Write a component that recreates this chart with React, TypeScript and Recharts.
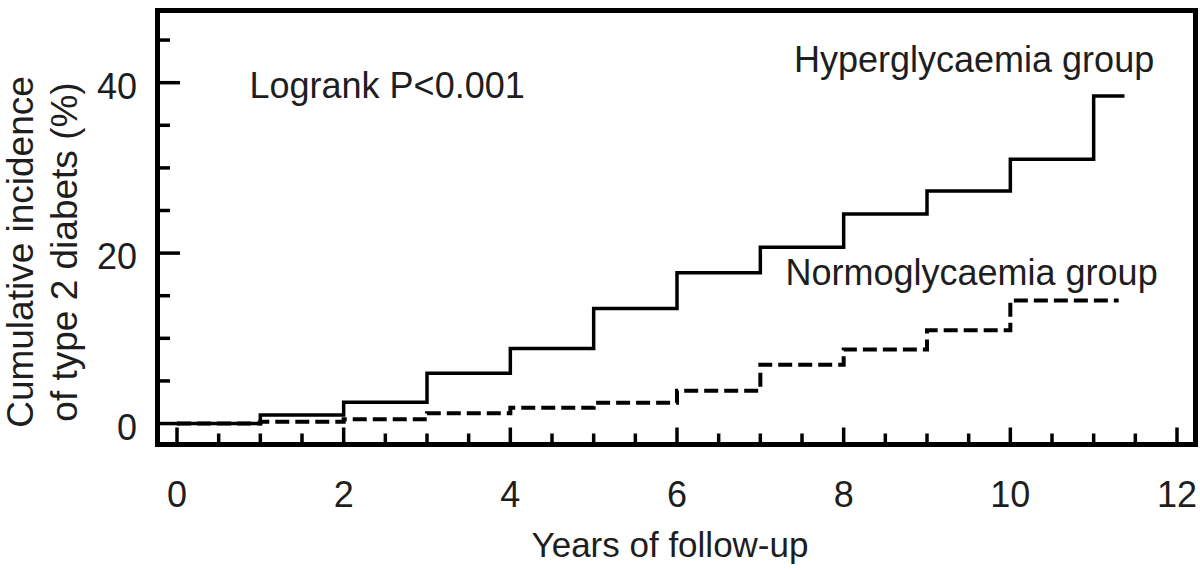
import React from 'react';
import { LineChart, Line, XAxis, YAxis, ReferenceArea, Customized } from 'recharts';

// Kaplan-Meier style cumulative incidence (%), step after each year
const hyperTimes = [0, 1, 2, 3, 4, 5, 6, 7, 8, 9, 10, 11, 11.37];
const hyperValues = [0, 1.0, 2.5, 5.9, 8.8, 13.5, 17.7, 20.7, 24.6, 27.3, 31.0, 38.45, 38.45];
const normoTimes = [0, 1, 2, 3, 4, 5, 6, 7, 8, 9, 10, 11.3];
const normoValues = [0, 0.2, 0.5, 1.2, 1.85, 2.45, 3.85, 6.9, 8.7, 10.95, 14.45, 14.45];

const xTicks = [0, 0.5, 1, 1.5, 2, 2.5, 3, 3.5, 4, 4.5, 5, 5.5, 6, 6.5, 7, 7.5, 8, 8.5, 9, 9.5, 10, 10.5, 11, 11.5, 12];
const xLabelTicks = [0, 2, 4, 6, 8, 10, 12];
const yTicks = [0, 5, 10, 15, 20, 25, 30, 35, 40, 45];
const yLabelTicks = [0, 20, 40];

const xDomain: [number, number] = [-0.234, 12.222];
const yDomain: [number, number] = [-2.46, 48.47];

const xTitle = 'Years of follow-up';
const yTitleLines = ['Cumulative incidence', 'of type 2 diabets (%)'];
const annotation = 'Logrank P<0.001';
const hyperLabel = 'Hyperglycaemia group';
const normoLabel = 'Normoglycaemia group';

const hyperData = hyperTimes.map((t, i) => ({ t, v: hyperValues[i] }));
const normoData = normoTimes.map((t, i) => ({ t, v: normoValues[i] }));

const FONT = '"Liberation Sans", Arial, Helvetica, sans-serif';
const TEXT = '#1e1e1e';

const XTick = (props: any) => {
  const { x, y, payload } = props;
  const v = payload.value;
  const major = xLabelTicks.includes(v);
  return (
    <g>
      <line x1={x} x2={x} y1={y} y2={y - (major ? 17 : 11)} stroke="#000" strokeWidth={3.5} />
      {major && (
        <text x={x} y={y + 62.5} textAnchor="middle" fontFamily={FONT} fontSize={36} fill={TEXT}>
          {v}
        </text>
      )}
    </g>
  );
};

const YTick = (props: any) => {
  const { x, y, payload } = props;
  const v = payload.value;
  const major = yLabelTicks.includes(v);
  return (
    <g>
      <line x1={x} x2={x + (major ? 22.5 : 12.5)} y1={y} y2={y} stroke="#000" strokeWidth={3.5} />
      {major && (
        <text x={x - 20.5} y={y + 16} textAnchor="end" fontFamily={FONT} fontSize={36} fill={TEXT}>
          {v}
        </text>
      )}
    </g>
  );
};

const Texts = () => (
  <g fontFamily={FONT} fill={TEXT}>
    <text x={249.5} y={98} fontSize={36}>{annotation}</text>
    <text x={794} y={72} fontSize={36}>{hyperLabel}</text>
    <text x={785.5} y={285} fontSize={36}>{normoLabel}</text>
    <text x={670} y={557} fontSize={35} textAnchor="middle">{xTitle}</text>
    <text x={33} y={252} fontSize={37} textAnchor="middle" transform="rotate(-90, 33, 252)">{yTitleLines[0]}</text>
    <text x={77} y={252} fontSize={37} textAnchor="middle" transform="rotate(-90, 77, 252)">{yTitleLines[1]}</text>
  </g>
);

export default function App() {
  return (
    <div style={{ position: 'absolute', left: 0, top: 0, width: 1200, height: 570, background: '#fff' }}>
      <LineChart
        width={1200}
        height={570}
        margin={{ top: 10.5, right: 4.5, bottom: 124.5, left: 156.5 }}
      >
        <XAxis
          dataKey="t"
          type="number"
          domain={xDomain}
          ticks={xTicks}
          allowDataOverflow
          height={1}
          tickSize={0}
          tickMargin={0}
          axisLine={false}
          tickLine={false}
          tick={(p: any) => <XTick {...p} />}
          interval={0}
        />
        <YAxis
          type="number"
          domain={yDomain}
          ticks={yTicks}
          allowDataOverflow
          width={1}
          tickSize={0}
          tickMargin={0}
          axisLine={false}
          tickLine={false}
          tick={(p: any) => <YTick {...p} />}
          interval={0}
        />
        <ReferenceArea
          x1={xDomain[0]}
          x2={xDomain[1]}
          y1={yDomain[0]}
          y2={yDomain[1]}
          fill="none"
          stroke="#000"
          strokeWidth={5}
          ifOverflow="visible"
        />
        <Line
          data={normoData}
          dataKey="v"
          type="stepAfter"
          stroke="#000"
          strokeWidth={4}
          strokeDasharray="14 6"
          dot={false}
          activeDot={false}
          isAnimationActive={false}
        />
        <Line
          data={hyperData}
          dataKey="v"
          type="stepAfter"
          stroke="#000"
          strokeWidth={3.5}
          dot={false}
          activeDot={false}
          isAnimationActive={false}
        />
        <Customized component={Texts} />
      </LineChart>
    </div>
  );
}
